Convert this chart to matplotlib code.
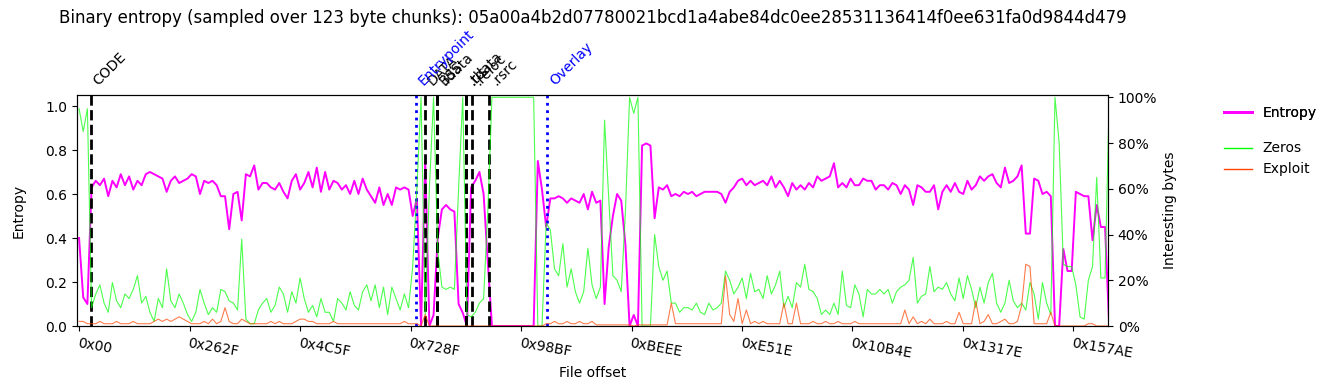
import numpy as np
import matplotlib
matplotlib.use("Agg")
import matplotlib.pyplot as plt
import matplotlib.transforms as mtransforms
from matplotlib.ticker import PercentFormatter

sha256 = "05a00a4b2d07780021bcd1a4abe84dc0ee28531136414f0ee631fa0d9844d479"
chunk_size = 123
step = 3 * chunk_size  # values below were read every 3 chunks

# entropy per sample (0..1)
entropy = [
    0.40, 0.13, 0.10, 0.63, 0.66, 0.64, 0.67, 0.59, 0.66, 0.63,
    0.69, 0.64, 0.68, 0.62, 0.66, 0.64, 0.69, 0.70, 0.69, 0.68,
    0.67, 0.61, 0.66, 0.68, 0.65, 0.66, 0.67, 0.69, 0.68, 0.60,
    0.66, 0.65, 0.66, 0.64, 0.59, 0.59, 0.44, 0.60, 0.61, 0.48,
    0.69, 0.68, 0.73, 0.62, 0.65, 0.65, 0.63, 0.62, 0.65, 0.61,
    0.58, 0.66, 0.69, 0.62, 0.65, 0.70, 0.63, 0.72, 0.61, 0.70,
    0.62, 0.66, 0.65, 0.62, 0.64, 0.60, 0.66, 0.60, 0.67, 0.62,
    0.59, 0.56, 0.63, 0.55, 0.60, 0.55, 0.63, 0.62, 0.63, 0.62,
    0.50, 0.58, 0.00, 0.75, 0.00, 0.05, 0.40, 0.53, 0.55, 0.53,
    0.52, 0.10, 0.06, 0.00, 0.63, 0.66, 0.70, 0.60, 0.29, 0.00,
    0.00, 0.00, 0.00, 0.00, 0.00, 0.00, 0.00, 0.00, 0.00, 0.00,
    0.75, 0.62, 0.45, 0.58, 0.58, 0.59, 0.58, 0.56, 0.58, 0.57,
    0.56, 0.60, 0.53, 0.61, 0.56, 0.57, 0.10, 0.36, 0.50, 0.60,
    0.57, 0.37, 0.00, 0.05, 0.00, 0.82, 0.83, 0.82, 0.49, 0.63,
    0.62, 0.64, 0.59, 0.60, 0.59, 0.61, 0.60, 0.61, 0.59, 0.60,
    0.61, 0.61, 0.61, 0.61, 0.60, 0.56, 0.61, 0.63, 0.66, 0.67,
    0.64, 0.66, 0.64, 0.65, 0.66, 0.64, 0.68, 0.63, 0.66, 0.63,
    0.59, 0.65, 0.62, 0.64, 0.62, 0.65, 0.63, 0.68, 0.66, 0.67,
    0.68, 0.74, 0.63, 0.65, 0.63, 0.67, 0.64, 0.64, 0.67, 0.66,
    0.66, 0.62, 0.64, 0.64, 0.62, 0.65, 0.64, 0.60, 0.64, 0.62,
    0.55, 0.64, 0.63, 0.61, 0.61, 0.64, 0.53, 0.61, 0.64, 0.61,
    0.65, 0.61, 0.60, 0.66, 0.62, 0.64, 0.68, 0.66, 0.68, 0.69,
    0.65, 0.63, 0.72, 0.65, 0.66, 0.68, 0.73, 0.42, 0.42, 0.67,
    0.66, 0.60, 0.61, 0.59, 0.00, 0.00, 0.35, 0.25, 0.25, 0.61,
    0.60, 0.59, 0.59, 0.39, 0.55, 0.45, 0.45, 0.00,
]

# share of zero bytes per sample (0..1)
zeros = [
    0.95, 0.85, 0.95, 0.08, 0.14, 0.18, 0.10, 0.06, 0.19, 0.11,
    0.08, 0.14, 0.12, 0.16, 0.22, 0.10, 0.13, 0.06, 0.02, 0.12,
    0.08, 0.25, 0.11, 0.08, 0.14, 0.10, 0.05, 0.02, 0.06, 0.16,
    0.10, 0.05, 0.08, 0.06, 0.16, 0.15, 0.11, 0.10, 0.07, 0.38,
    0.03, 0.01, 0.01, 0.07, 0.10, 0.12, 0.06, 0.09, 0.17, 0.14,
    0.06, 0.15, 0.10, 0.21, 0.12, 0.06, 0.09, 0.04, 0.12, 0.06,
    0.06, 0.02, 0.12, 0.10, 0.07, 0.15, 0.09, 0.07, 0.15, 0.18,
    0.11, 0.18, 0.08, 0.17, 0.05, 0.17, 0.12, 0.07, 0.14, 0.08,
    0.26, 0.60, 1.00, 0.05, 0.60, 1.00, 0.33, 0.17, 0.16, 0.17,
    0.16, 0.60, 1.00, 0.05, 0.04, 0.06, 0.10, 0.12, 0.50, 1.00,
    1.00, 1.00, 1.00, 1.00, 1.00, 1.00, 1.00, 1.00, 1.00, 1.00,
    0.00, 0.00, 0.45, 0.42, 0.25, 0.22, 0.36, 0.17, 0.25, 0.15,
    0.10, 0.15, 0.34, 0.18, 0.12, 0.17, 0.90, 0.56, 0.22, 0.20,
    0.15, 0.50, 1.00, 0.93, 1.00, 0.00, 0.00, 0.00, 0.40, 0.26,
    0.20, 0.24, 0.10, 0.10, 0.06, 0.08, 0.08, 0.07, 0.10, 0.06,
    0.05, 0.10, 0.07, 0.08, 0.10, 0.24, 0.20, 0.14, 0.17, 0.21,
    0.12, 0.23, 0.15, 0.16, 0.12, 0.22, 0.14, 0.18, 0.24, 0.08,
    0.13, 0.08, 0.19, 0.17, 0.27, 0.16, 0.15, 0.12, 0.05, 0.07,
    0.05, 0.10, 0.05, 0.24, 0.09, 0.08, 0.18, 0.14, 0.04, 0.16,
    0.14, 0.14, 0.16, 0.14, 0.16, 0.10, 0.15, 0.17, 0.18, 0.20,
    0.30, 0.10, 0.13, 0.14, 0.26, 0.15, 0.17, 0.16, 0.19, 0.14,
    0.11, 0.21, 0.12, 0.22, 0.16, 0.08, 0.17, 0.10, 0.19, 0.23,
    0.10, 0.06, 0.10, 0.20, 0.11, 0.08, 0.10, 0.07, 0.19, 0.14,
    0.03, 0.19, 0.10, 0.05, 1.00, 0.80, 0.27, 0.26, 0.26, 0.18,
    0.04, 0.03, 0.20, 0.26, 0.65, 0.21, 0.21, 1.00,
]

# share of "exploit" bytes per sample (0..1)
exploit = [
    0.02, 0.02, 0.01, 0.01, 0.01, 0.02, 0.01, 0.01, 0.01, 0.02,
    0.01, 0.01, 0.01, 0.02, 0.01, 0.01, 0.01, 0.01, 0.02, 0.03,
    0.02, 0.03, 0.02, 0.03, 0.04, 0.03, 0.02, 0.01, 0.01, 0.01,
    0.02, 0.01, 0.03, 0.01, 0.02, 0.08, 0.02, 0.01, 0.01, 0.03,
    0.02, 0.01, 0.01, 0.01, 0.01, 0.01, 0.02, 0.01, 0.02, 0.01,
    0.01, 0.01, 0.02, 0.03, 0.03, 0.02, 0.02, 0.01, 0.01, 0.01,
    0.01, 0.02, 0.01, 0.01, 0.01, 0.01, 0.01, 0.01, 0.01, 0.01,
    0.01, 0.01, 0.01, 0.01, 0.01, 0.01, 0.01, 0.01, 0.02, 0.01,
    0.01, 0.01, 0.00, 0.05, 0.00, 0.00, 0.00, 0.00, 0.00, 0.00,
    0.00, 0.00, 0.00, 0.00, 0.00, 0.00, 0.00, 0.00, 0.00, 0.00,
    0.00, 0.00, 0.00, 0.00, 0.00, 0.00, 0.00, 0.00, 0.00, 0.00,
    0.00, 0.00, 0.01, 0.01, 0.02, 0.01, 0.01, 0.02, 0.01, 0.01,
    0.02, 0.01, 0.01, 0.02, 0.005, 0.005, 0.005, 0.005, 0.005, 0.005,
    0.005, 0.005, 0.005, 0.00, 0.005, 0.005, 0.005, 0.005, 0.005, 0.005,
    0.005, 0.005, 0.10, 0.01, 0.01, 0.01, 0.01, 0.01, 0.01, 0.01,
    0.01, 0.01, 0.01, 0.01, 0.01, 0.22, 0.05, 0.02, 0.12, 0.01,
    0.07, 0.01, 0.02, 0.01, 0.02, 0.01, 0.01, 0.01, 0.01, 0.10,
    0.01, 0.01, 0.10, 0.01, 0.01, 0.01, 0.02, 0.01, 0.01, 0.02,
    0.01, 0.01, 0.02, 0.01, 0.01, 0.01, 0.02, 0.01, 0.01, 0.01,
    0.01, 0.01, 0.01, 0.01, 0.01, 0.01, 0.01, 0.01, 0.07, 0.01,
    0.04, 0.01, 0.02, 0.01, 0.03, 0.01, 0.01, 0.01, 0.02, 0.01,
    0.01, 0.06, 0.01, 0.01, 0.01, 0.11, 0.01, 0.02, 0.05, 0.01,
    0.01, 0.02, 0.03, 0.01, 0.01, 0.02, 0.09, 0.27, 0.26, 0.01,
    0.01, 0.01, 0.01, 0.06, 0.00, 0.00, 0.00, 0.00, 0.00, 0.00,
    0.00, 0.00, 0.01, 0.01, 0.00, 0.00, 0.00, 0.00,
]

# PE sections (raw file offsets)
section_names = ["CODE", "DATA", "BSS", ".idata", ".tls", ".rdata", ".reloc", ".rsrc"]
section_offsets = [1024, 30600, 31700, 31700, 34250, 34250, 34770, 36280]
entrypoint_offset = 29810
overlay_offset = 41400

tick_labels = ["0x00", "0x262F", "0x4C5F", "0x728F", "0x98BF",
               "0xBEEE", "0xE51E", "0x10B4E", "0x1317E", "0x157AE"]

offsets = np.arange(len(entropy)) * step

fig = plt.figure(figsize=(13.33, 3.9), dpi=100)
ax = fig.add_axes([0.0578, 0.1641, 0.7734, 0.5923])
ax2 = ax.twinx()

l_ent, = ax.plot(offsets, entropy, color="#ff00ff", lw=1.4, label="Entropy")
l_zero, = ax2.plot(offsets, zeros, color="lime", lw=0.8, alpha=0.7, label="Zeros")
l_expl, = ax2.plot(offsets, exploit, color="orangered", lw=0.8, alpha=0.7, label="Exploit")

# section markers
trans = mtransforms.blended_transform_factory(ax.transData, ax.transAxes)
for name, off in zip(section_names, section_offsets):
    ax.axvline(off, color="black", ls="--", lw=2)
    ax.text(off, 1.03, name, rotation=45, ha="left", va="bottom",
            fontsize=10, transform=trans)
for name, off in [("Entrypoint", entrypoint_offset), ("Overlay", overlay_offset)]:
    ax.axvline(off, color="blue", ls=":", lw=2)
    ax.text(off, 1.03, name, rotation=45, ha="left", va="bottom",
            fontsize=10, color="blue", transform=trans)

ax.set_xlim(-177, 91035)
ax.set_ylim(0, 1.05)
ax2.set_ylim(0, 1.01)
ax2.yaxis.set_major_formatter(PercentFormatter(1.0, decimals=0))
ax2.set_yticks([0, 0.2, 0.4, 0.6, 0.8, 1.0])

ax.set_xticks([int(t, 16) for t in tick_labels])
ax.set_xticklabels(tick_labels, rotation=-10, ha="left", rotation_mode="anchor")

ax.set_xlabel("File offset")
ax.set_ylabel("Entropy", labelpad=14.5)
ax2.set_ylabel("Interesting bytes")

leg1 = ax.legend(handles=[l_ent], loc="upper left", bbox_to_anchor=(1.107, 0.977),
                 borderaxespad=0, frameon=False)
ax.add_artist(leg1)
leg2 = ax2.legend(handles=[l_zero, l_expl], loc="upper left",
                  bbox_to_anchor=(1.107, 0.823), borderaxespad=0, frameon=False)
for h in leg2.get_lines():
    h.set_alpha(1.0)
    h.set_linewidth(1.0)
leg1.get_lines()[0].set_linewidth(2.0)

fig.text(0.4445, 0.954, "Binary entropy (sampled over %d byte chunks): %s" % (chunk_size, sha256),
         ha="center", va="center", fontsize=12)

fig.savefig("out.png", dpi=100)
